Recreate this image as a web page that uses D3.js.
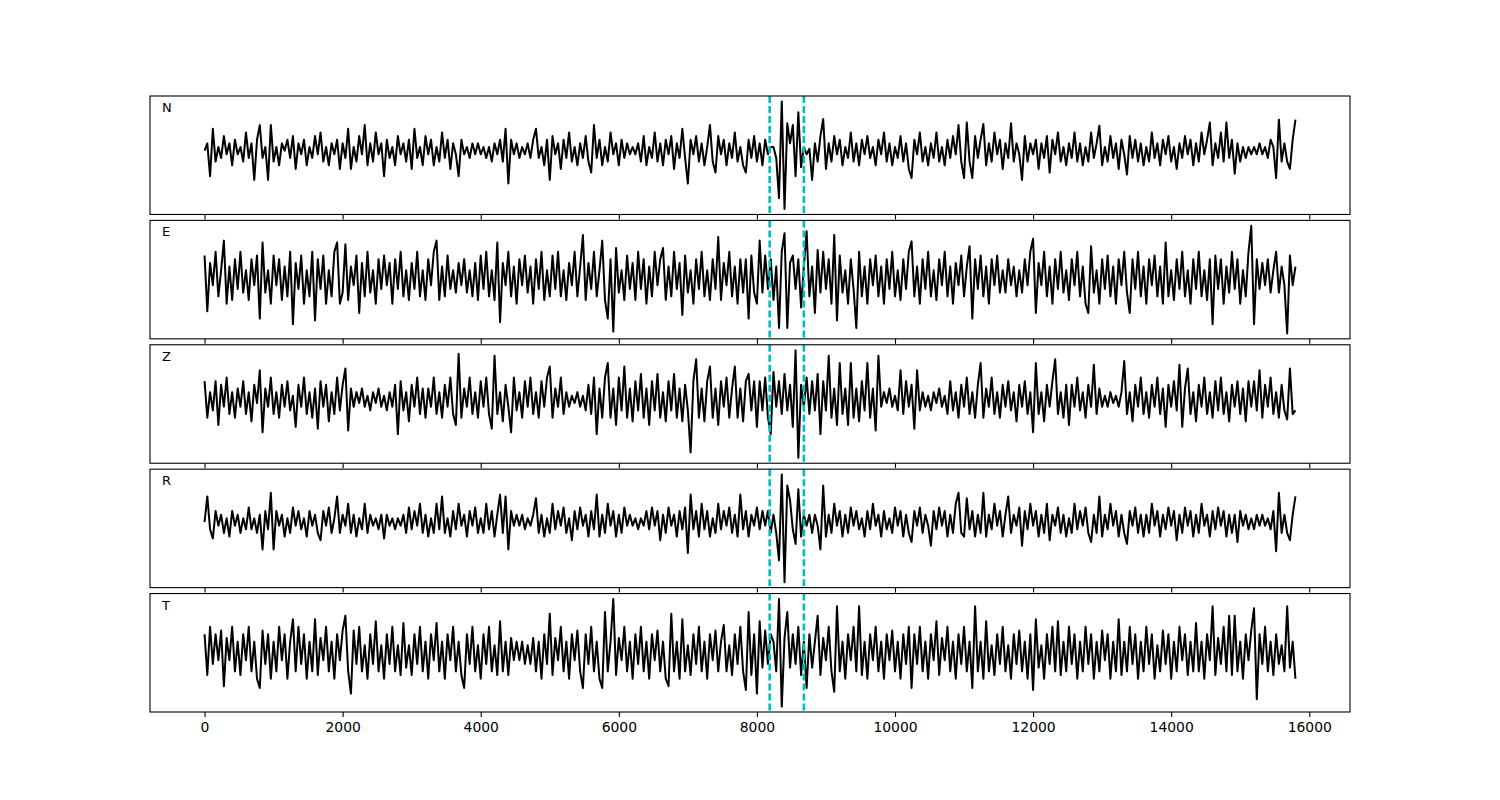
<!DOCTYPE html>
<html>
<head>
<meta charset="utf-8">
<script src="https://cdn.jsdelivr.net/npm/d3@7"></script>
<style>
	body { margin: 0; background: #fff; }
	svg { display: block; }
	.tick text { font-family: "DejaVu Sans", sans-serif; font-size: 13.9px; fill: #000; }
	.tick line { stroke: #000; stroke-width: 1.1; }
</style>
</head>
<body>
<div id="chart"></div>
<script>

// channel names, one per panel (top to bottom)
var channels = ["N", "E", "Z", "R", "T"];

// sample spacing of the traces below
var SAMPLE_STEP = 40;

// picks (sample index) shown as dashed lines
var pickTimes = [8185, 8680];

// x tick values
var xTicks = [0, 2000, 4000, 6000, 8000, 10000, 12000, 14000, 16000];

// traces, every 40 samples
var traceN = [
	0, 2, -7, 6, -3, 1, -2, 4, -1, 2, -4, 3, -1, 1, -3, 5, -2, 2, -8, 3,
	7, -2, 1, -8, 7, -3, 1, -4, 2, 0, 3, -2, 4, -5, 2, -1, 3, -4, 1, -2,
	4, -1, 5, -3, 1, -4, 2, -1, 3, -5, 2, -2, 6, -5, 1, -3, 4, -1, 7, -4,
	2, -3, 5, -1, 2, -7, 3, -2, 1, -4, 4, -1, 2, -3, 3, -5, 6, -2, 1, -4,
	4, -1, 3, -4, 1, -3, 5, -2, 3, -5, 2, -1, -7, 3, -1, 1, -2, 2, -1, 2,
	-1, 1, -2, 1, -3, 2, -1, 3, -3, 6, -9, 3, -1, 2, -2, 1, -1, 2, -2, 3,
	6, -2, 1, -4, 3, -8, 4, -1, 2, -5, 3, -2, 5, -3, 1, -4, 2, -2, 4, -3,
	-6, 7, -2, 3, -4, 1, -3, 5, -1, 2, -4, 3, -2, 2, -1, 1, -1, 2, -3, 4,
	-4, 1, -2, 5, -3, 2, -4, 3, -1, 4, -5, 2, -2, 6, -2, -9, 3, -1, 4, -3,
	2, -4, 1, 7, -3, -6, 4, -1, 3, -4, 2, -2, 5, -3, 1, -4, -6, 3, -2, 4,
	-3, 2, -4, 3, -1, 1, 1, -2, -13, 13.5, -16, 7.5, 2, 7, -7, 10.5, -4.5, 1, -1, 0.5,
	-8, 2, -3, 4, 8.7, -5, 2, -3, 4, -1, 3, -4, 1, -2, 5, -3, 2, -4, 3, -1,
	4, -2, 1, -4, 3, -1, 5, -3, 2, -4, 1, -2, 4, -3, 2, -5, -7.5, 3, -1, 5,
	-3, 1, -4, 2, -2, 5, -3, 1, -4, 3, -2, 4, -1, 7, -3, -7.5, 7.7, -3, -7.5, 4,
	-2, 3, 7.3, -4, 2, -3, 5, -1, 3, -5, 2, -2, 7.5, -3, 2, -1, -8, 4, -3, 2,
	-1, 3, -5, 2, -2, 4, -6, 3, -1, 5, -3, 1, -4, 2, -2, 5, -3, 2, -4, 1,
	-3, 5, -2, 2, 6.8, -4, 1, -3, 4, -2, 2, -5, 3, -1, -6.5, 4, -2, 3, -3, 2,
	-4, 1, -3, 5, -2, 2, -4, 3, -1, 4, -3, 1, -5, 2, -2, 4, -1, 3, -4, 2,
	-3, 5, -1, 3, 7.7, -4, 2, -2, 5, -3, 7.7, -2, 3, -6.3, 2, -3, 1, -2, 1, -1,
	1, -1, 2, -1, 1, -2, 3, 1, -7.5, 8.5, -3, 2, -3, -5, 3, 8.5
];

var traceE = [
	6, -9, 4, -2, 7, -5, 2, 10, -7, 3, -6, 5, -3, 7, -4, 2, -6, 5, -2, 6,
	-11, 9.5, -4, 2, -7, 6, -2, 5, -6, 3, -5, 7, -12.5, 4, -3, 6, -7, 2, -5, 7,
	-11.5, 5, -3, 6, -7, 2, -5, 7, 9.5, -7, -4, 9, -6, 3, -2, 6, -9.5, 4, -5, 7,
	-4, 2, -7, 5, -3, 6, -2, 4, -7, 5, -3, 7, -5, 2, -6, 4, -3, 7, -5, 2,
	-6, 5, -2, 7, 10, -6, 3, -5, 6, -3, 2, -4, 4, -2, 5, -4, 2, -5, 4, -6,
	6, -3, 7, -5, 2, -6, 9.5, -12, 4, -2, 7, -5, 3, -7, 5, -2, 6, -4, 3, -7,
	5, -3, 7, -6, 2, -5, 6, -3, 7, -5, 2, -6, 4, -2, 7, -5, 3, 11.5, -6, 4,
	-3, 7, -5, 2, 10, -6, -11, 5, -14.5, 8, -4, 2, -6, 6, -3, 4, -6, 7, -3, 5,
	-7, 3, -5, 7, -2, 5, 8, -6, 3, -5, 7, -3, 4, -10, 6, -4, 2, -7, 5, -3,
	7, -5, 2, -6, 5, -3, 11, -6, 4, -2, 7, -5, 3, -7, 5, -4, 5, -11, 6, -4,
	-7, 10, -4, 6, -3, 5, -6, 3, -13.5, 7, 12, -13.5, 4, 6, -3, 5, -8, 3, 12.5, -5,
	3, -9.5, 7.5, -4, 7, -3, 5, -7, 11.5, -11.5, 6, -4, 2, -7, 5, -3, -13.5, 7, -5, 3,
	-7, 5, -2, 6, -5, 3, -7, 5, -3, 7, -5, 2, -6, 5, -3, 7, 9.8, -5, 3, -7,
	5, -3, 7, -5, 2, -6, 5, -2, 7, -5, 3, -7, 4, -2, 6, -5, 3, 8.5, -11, 5,
	-3, 6, -5, 3, -7, 5, -2, 6, -4, 2, -4, 5, -2, 3, -5, 2, -4, 5, -2, 7,
	10.5, -9.5, 4, -2, 7, -5, 3, -7, 5, -3, 7, -4, 2, -6, 5, -2, 7, -5, 3, -7,
	-9.5, 8.5, -4, 2, -7, 5, -3, 6, -5, 3, -7, 5, -2, 7, -4, -9.5, 5, -3, 7, -5,
	3, -7, 5, -2, 6, -5, 3, -7, 9.5, -5, 2, -6, 5, -3, 7, -5, 2, -7, 5, -3,
	7, -5, 2, -6, 5, -12.5, 6, -3, 5, -7, 3, -4, 7, -3, 5, -7, 2, -5, 7, 14,
	-12.5, 5, -3, 4, -2, 5, -4, 2, 7, -4, 3, -2, -15, 6, -2, 3
];

var traceZ = [
	5, -5, 2, -3, 5, -7, 4, -2, 6, -4, 2, -5, 3, -2, 5, -4, 2, -6, 4, -1,
	8, -9, 3, -2, 6, -4, 2, -5, 4, -2, 5, -3, 1, -7.5, 4, -2, 6, -4, 2, -5,
	3, -8, 5, -2, 4, -6, 2, -4, 6, -3, 4, 8.5, -8.5, 3, -2, 2, -1, 3, -2, 1,
	-3, 2, -1, 3, -2, 1, -3, 2, -2, 4, -9.5, 5, -3, 2, -6, 4, -2, 6, -4, 3,
	-5, 3, -2, 6, -4, 2, -5, 4, -2, 6, -4, -7, 12.5, -5, 3, -2, 6, -4, 2, -5,
	5, -2, 6, -4, -8, 12, -4, 2, -6, 4, -2, -9, 6, -3, 2, -5, 5, -2, 6, -4,
	2, -5, 5, -2, 6, 9, -5, 3, -2, 6, -4, 2, -2, 1, -1, 2, -2, 1, -3, 4,
	-4, 6, -9.5, 3, -5, 6, 10, -5, 3, -7, 6, -3, 9, -5, 3, -6, 5, -3, 7, -5,
	3, -7, 5, -3, 7, -5, 2, -6, 5, -3, 7, -5, 3, -6, 4, -3, -14.5, 5, 11, -5,
	3, -6, 5, 9, -5, 3, -7, 5, -2, 6, -5, 3, 9, -5, 3, -6, 5, 7, -3, 5,
	-7.5, 5, -3, 6, -5, -9.5, 7.5, -2, 5, -4, 7, -3, 4, -7.5, 13.5, -16, 4, -2, 6, -4,
	5, -3, 7, -9.5, 5, -3, 12, -5, 3, -7, 10, -4, 3, -7, 10, -5, 3, -6, 5, -3,
	10, -5, 3, -8.5, 12, -2, 2, -1, 3, -2, 1, -3, 8, -4, 5, -2, 4, -8, 8, -3,
	2, -2, 1, -3, 2, -1, 3, -2, 1, -4, 5, -3, 2, -5, 4, -2, 6, -4, 2, -5,
	4, 10, -5, 3, -2, 6, -4, 2, -5, 4, -2, 5, -3, 2, -6, 4, -2, 5, -4, 2,
	-9, 10, -4, 2, -6, 4, -2, 5, 11, -4, 2, -5, 4, -7, 4, -2, 6, -3, 2, -5,
	4, -2, 9.5, -4, 3, -2, 1, -2, 2, -1, 1, -2, 2, 10.5, -4, 2, -6, 4, -2, 6,
	-4, 2, -5, 4, -2, 6, -4, 3, -7.5, 4, -2, 5, -3, 9.5, -7.5, 3, 8.5, -4, 2, -6,
	4, -2, 6, -4, 2, -5, 5, -3, 6, -4, 2, -6, 4, -2, 5, -4, 3, -6, 5, -2,
	5, -3, 8, -5, 4, -2, 6, -4, 2, -5, 4, -3, -5.5, 8.5, -4, -3
];

var traceR = [
	0, 7, -2, -4.5, 3, -1, 2, -3, 1, -4, 3, -1, 2, -3, 1, -2, 4, -2, 1, -3,
	2, -7.5, 3, -2, 8, -7.5, 3, -1, 2, -4, 1, -3, 4, -1, 3, -2, 1, -4, 3, -1,
	2, -3, -5, 3, -1, 4, -3, 1, 7, -3, 2, -1, 5, -3, 2, -4, 1, -2, 5, -3,
	2, -1, 1, -2, 2, -4.5, 2, -1, 1, -2, 1, -1, 2, -3, 4, -2, 3, -1, 5, -3,
	2, -4, 1, -3, 5, -2, 7, -3, 1, -4, 3, -2, 5, -1, 2, -4, 3, -1, 4, -3,
	1, -3, 5, -2, 3, -4, 2, 7.5, -3, 7, -7.5, 3, -1, 2, -1, 2, -2, 1, -1, 2,
	6.5, -3, 2, -4, 1, -3, 5, -2, 3, -1, 4, -3, 1, -5, 3, -2, 4, -1, 2, -4,
	3, -2, 7.5, -4, 2, -3, 5, -1, 3, -4, 2, -3, 4, -1, 2, -1, 1, -2, 1, -1,
	3, -2, 4, -1, 3, -5, 2, -3, 4, -1, 2, -4, 3, -2, 4, -8.5, 7.5, -2, 3, -4,
	5, -2, 3, -4, 1, -3, 5, -2, 3, -1, 4, -3, 2, -4, 7.5, -2, 3, -4, 2, -1,
	4, -2, 3, -1, 3, -3, 2, -3, -10.5, 13, -16.5, 10, 6, -2, -6, 9, -4, 2, -1, 2,
	-3, 2, -1, -7.5, 10, -4, 2, -3, 5, -1, 3, -4, 2, -3, 4, -1, 3, -2, 1, -4,
	3, -2, 5, -1, 2, -4, 3, -2, 1, -3, 4, -1, 3, -4, 2, -3, -5.5, 3, -1, 4,
	-3, 2, -1, -6.5, 3, -2, 4, -1, 3, -4, 2, -3, 5, 8, -3, -4, 6.5, -2, 3, -4,
	2, -3, 8, -4, 2, -2, 5, -1, 3, -4, 2, 7, -3, 2, -1, 4, -6.5, 3, -2, 5,
	-1, 3, -4, 2, -3, 5, -5, 2, -1, 4, -3, 2, -4, 1, -3, 5, -2, 3, -1, 4,
	-3, -5.5, 2, -3, 7, -4, 2, -2, 5, -1, 3, -4, 2, -3, -6, 3, -1, 4, -3, 2,
	-4, 2, -3, 5, -1, 3, -4, 2, -2, 4, -1, 3, -5, 2, -3, 4, -1, 3, -4, 2,
	-3, 5, -1, 2, -4, 3, -2, 4, -1, 3, -4, 2, -3, 2, -5.5, 3, -1, 2, -2, 1,
	-2, 2, -1, 2, -1, 1, -2, 3, -8, 8, -3, 2, -3, -5, 2, 7
];

var traceT = [
	5, -6, 7, -3, 5, -2, 6, -9, 4, -2, 7, -5, 3, -6, 5, -2, 7, -5, 3, -7,
	-9.5, 6, -3, 5, -7, 3, -5, 7, -2, 5, -7, 3, 9, -5, 7, -3, 5, -7, 3, -5,
	9, -6, 4, -2, 7, -5, 3, -7, 5, -2, 6, 10, -5, -11, 6, -3, 7, -5, 2, -7,
	5, -3, 8.5, -5, 2, -7, 5, -3, 7, -5, 2, -6, 8, -4, 2, -6, 5, -3, 7, -5,
	3, -7, 5, -2, 8, -5, 3, -7, 5, -2, 7, -5, 3, -6, -9.5, 5, -3, 7, -5, 2,
	-7, 5, -3, 7, -5, 2, -6, 8.5, -5, 3, -6, 4, -2, 3, -2, 3, -3, 2, -3, 4,
	-5, 3, -7, 5, -3, 10.5, -6, 4, -2, 7, -5, 3, -7, 5, -2, 6, -5, -9.5, 5, -3,
	7, -5, 3, -7, -9.5, 11, -5, 3, 14.5, -6, 4, -2, 7, -5, 3, -7, 5, -3, 7, -5,
	3, -7, 5, -2, 6, -5, 3, -7, -9, 10.5, -5, 3, -7, 9, -5, 2, -6, 5, -3, 7,
	-5, 3, -7, 5, -2, 6, -5, 3, 7.5, -5, 2, -6, 5, -3, 7, -5, -10, 11, -6, 5,
	-11, 8.5, -4, 6, -3, 5, 3, -5, 14.5, -14.5, 4, 11, -4, 5, -3, 7, -6, 3, -9.5, 5,
	-4, 3, 10, -6, 4, -2, 7, -5, -10.5, 12.5, -5, 3, -7, 5, -2, 7, -5, 12.5, -6, 3,
	-7, 5, -2, 7, -5, 3, -7, 5, -2, 6, -5, 3, -7, 5, -3, 7, -9.5, 5, -3, 7,
	-5, 3, -7, 5, -2, 8.5, -6, 4, -2, 7, -5, 3, -7, 5, -3, 7, -5, 3, -9.5, 12.5,
	-5, 3, -7, 8.5, -5, 2, -6, 5, -3, 7, -5, 2, -7, 5, -3, 6, -5, 3, -7, 5,
	-10, 9, -4, 2, -7, 5, -3, 7, -5, 8.5, -6, 3, -5, 7, -3, 5, -7, 3, -5, 7,
	-3, 5, -7, 3, -5, 6, -2, 5, -7, 3, -5, 9, -6, 3, -5, 7, -3, 5, -7, 3,
	-5, 7, -3, 5, -7, 2, -5, 6, -3, 5, -7, 3, -5, 7, -2, 5, -6, 3, -5, 8,
	-5, 3, -7, 5, -2, 12.5, -6, 4, -3, 7, -5, 10, -6, 10, -5, 3, -7, 5, -2, 6,
	12, -12.5, 5, -3, 7, -5, 3, -6, 5, -3, 2, -5, 12.5, -4, 3, -7
];

var traces = [traceN, traceE, traceZ, traceR, traceT];

var Chart = function() {

	var margin, width, height, panelHeight, gap, x, svg;

	var initialize = function() {

		// figure is 1500x800, axes from 10% to 90% across, 12% to 89% down
		margin = {top: 96, right: 150, bottom: 88, left: 150};
		width = 1500 - margin.left - margin.right;
		height = 800 - margin.top - margin.bottom;

		// 5 stacked panels, small gap between them
		panelHeight = height / (5 + 4 * 0.05);
		gap = panelHeight * 0.05;

		// shared x scale, 5% margin around the data
		var lastSample = (d3.max(traces, function(t) { return t.length; }) - 1) * SAMPLE_STEP;
		var pad = lastSample * 0.05;
		x = d3.scaleLinear().domain([-pad, lastSample + pad]).range([0, width]);

		svg = d3.select("#chart").append("svg")
		.attr("width", 1500)
		.attr("height", 800);

	}

	var renderPanel = function(data, label, k) {

		var top = margin.top + k * (panelHeight + gap);
		var isLast = (k === traces.length - 1);

		var g = svg.append("g")
		.attr("transform", "translate(" + margin.left + "," + top + ")");

		// y scale from the data with 5% margin
		var ext = d3.extent(data);
		var ypad = (ext[1] - ext[0]) * 0.05;
		var y = d3.scaleLinear()
		.domain([ext[0] - ypad, ext[1] + ypad])
		.range([panelHeight, 0]);

		var line = d3.line()
		.x(function(d, i) { return x(i * SAMPLE_STEP); })
		.y(function(d) { return y(d); });

		// trace
		g.append("path")
		.datum(data)
		.attr("fill", "none")
		.attr("stroke", "#000")
		.attr("stroke-width", 2)
		.attr("stroke-linejoin", "round")
		.attr("d", line);

		// picks
		g.selectAll("line.pick")
		.data(pickTimes)
		.enter()
		.append("line")
		.attr("class", "pick")
		.attr("x1", function(d) { return x(d); })
		.attr("x2", function(d) { return x(d); })
		.attr("y1", 0)
		.attr("y2", panelHeight)
		.attr("stroke", "#00bfbf")
		.attr("stroke-width", 2.6)
		.attr("stroke-dasharray", "7,3");

		// x axis ticks (labels on bottom panel only)
		var xAxis = d3.axisBottom(x)
		.tickValues(xTicks)
		.tickSize(5)
		.tickPadding(5.5)
		.tickFormat(isLast ? d3.format("d") : function() { return ""; });

		var ax = g.append("g")
		.attr("transform", "translate(0," + panelHeight + ")")
		.call(xAxis);
		ax.select(".domain").remove();

		// frame
		g.append("rect")
		.attr("x", 0)
		.attr("y", 0)
		.attr("width", width)
		.attr("height", panelHeight)
		.attr("fill", "none")
		.attr("stroke", "#000")
		.attr("stroke-width", 1.1);

		// channel label
		g.append("text")
		.attr("x", 12)
		.attr("y", 16)
		.attr("font-family", "DejaVu Sans, sans-serif")
		.attr("font-size", "13px")
		.text(label);

	}

	var render = function() {
		traces.forEach(function(t, k) {
			renderPanel(t, channels[k], k);
		});
	}

	return {
		initialize: initialize,
		render: render
	}

};

var chart = Chart();
chart.initialize();
chart.render();

</script>
</body>
</html>
